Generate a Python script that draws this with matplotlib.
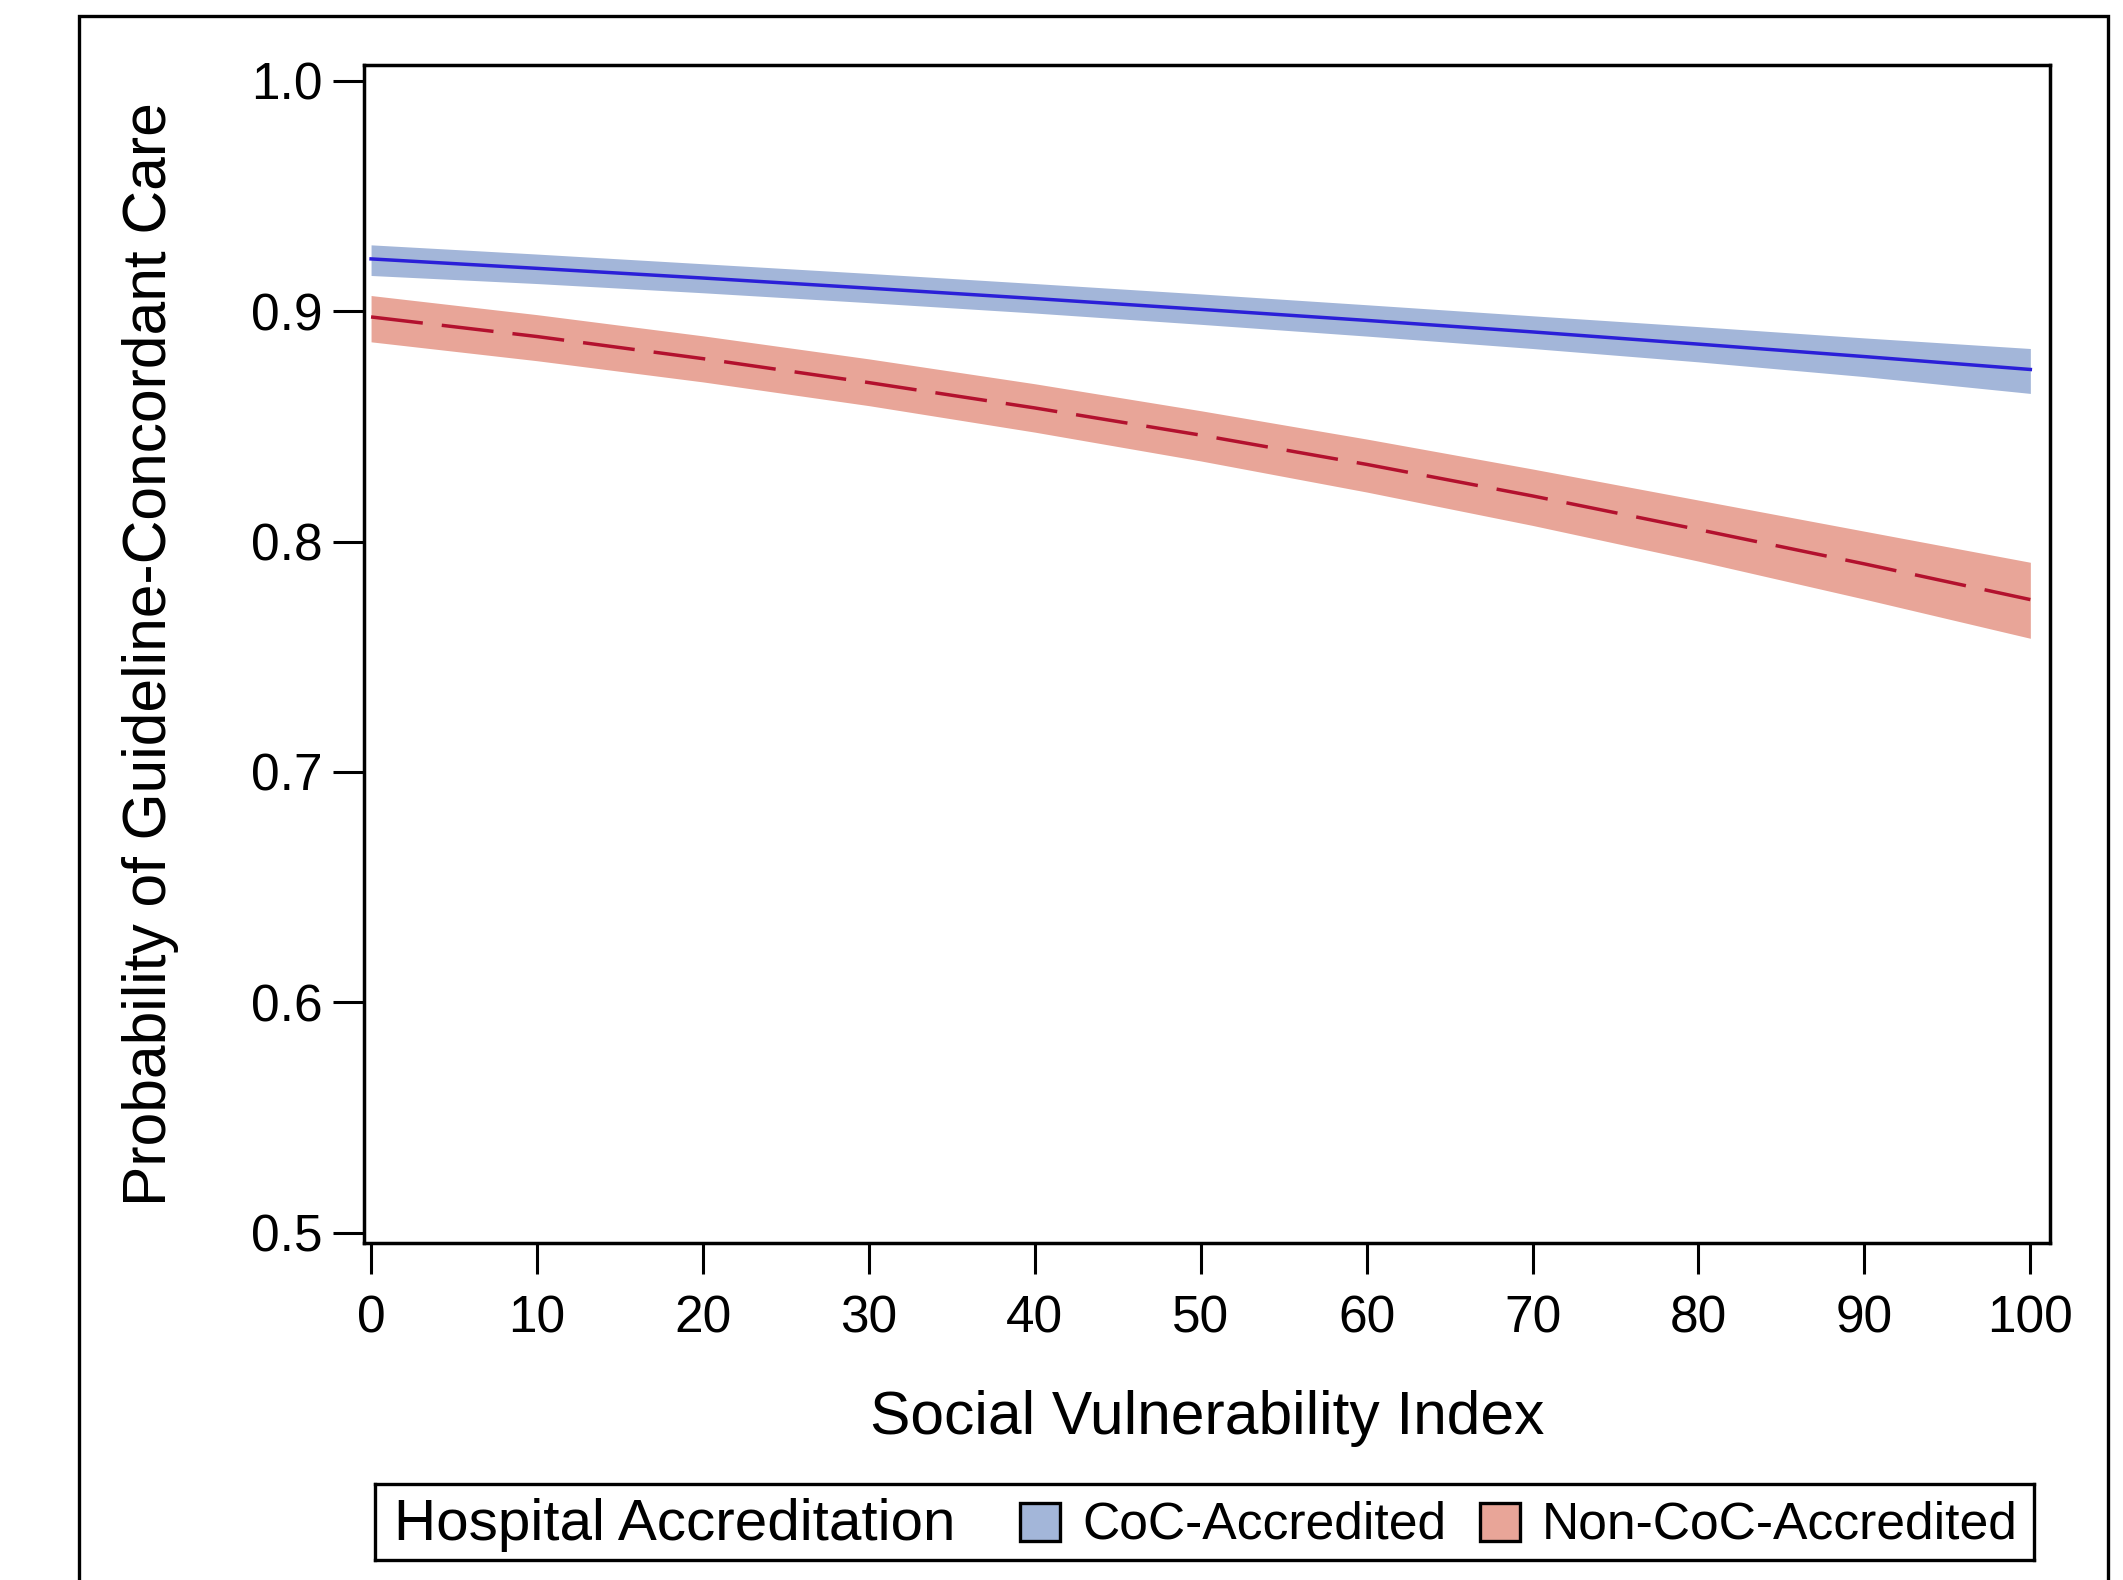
import matplotlib.pyplot as plt
from matplotlib.patches import Rectangle

plt.rcParams['font.family'] = ['Liberation Sans', 'DejaVu Sans']

svi = [0, 10, 20, 30, 40, 50, 60, 70, 80, 90, 100]

coc_est = [0.9227, 0.9186, 0.9144, 0.9100, 0.9055, 0.9008, 0.8960, 0.8910, 0.8857, 0.8803, 0.8747]
coc_upper = [0.9288, 0.9248, 0.9206, 0.9164, 0.9120, 0.9075, 0.9028, 0.8980, 0.8933, 0.8884, 0.8838]
coc_lower = [0.9155, 0.9120, 0.9080, 0.9037, 0.8992, 0.8943, 0.8892, 0.8838, 0.8780, 0.8716, 0.8643]

non_est = [0.8975, 0.8890, 0.8794, 0.8690, 0.8580, 0.8462, 0.8335, 0.8198, 0.8052, 0.7903, 0.7748]
non_upper = [0.9068, 0.8985, 0.8893, 0.8793, 0.8685, 0.8568, 0.8445, 0.8315, 0.8180, 0.8045, 0.7910]
non_lower = [0.8867, 0.8785, 0.8693, 0.8590, 0.8475, 0.8350, 0.8215, 0.8070, 0.7915, 0.7750, 0.7580]

x_ticks = [0, 10, 20, 30, 40, 50, 60, 70, 80, 90, 100]
y_ticks = [0.5, 0.6, 0.7, 0.8, 0.9, 1.0]

legend_title = 'Hospital Accreditation'
group_names = ['CoC-Accredited', 'Non-CoC-Accredited']

band_colors = ['#a3b6d9', '#e8a598']
line_colors = ['#2a1fd8', '#b3112e']

fig = plt.figure(figsize=(21.23, 15.8), dpi=100, facecolor='white')

# outer frame, runs off the bottom edge like in the original
fig.patches.append(Rectangle((0.037, -0.1), 0.956, 1.0899, transform=fig.transFigure,
                             fill=False, edgecolor='black', linewidth=2.4, clip_on=False))

ax = fig.add_axes([0.1715, 0.2133, 0.794, 0.7456])

ax.fill_between(svi, coc_lower, coc_upper, color=band_colors[0], linewidth=0)
ax.fill_between(svi, non_lower, non_upper, color=band_colors[1], linewidth=0)
ax.plot(svi, coc_est, color=line_colors[0], linewidth=2.5)
ax.plot(svi, non_est, color=line_colors[1], linewidth=2.5, linestyle=(0, (15, 5.5)))

ax.set_xlim(-0.42, 101.17)
ax.set_ylim(0.4955, 1.0069)
ax.set_xticks(x_ticks)
ax.set_yticks(y_ticks)
ax.set_yticklabels(['%.1f' % v for v in y_ticks])

for sp in ax.spines.values():
    sp.set_linewidth(2.5)
ax.tick_params(axis='both', length=22, width=2.2, labelsize=37)
ax.tick_params(axis='x', pad=15)
ax.tick_params(axis='y', pad=8)

ax.set_xlabel('Social Vulnerability Index', fontsize=43.6)
ax.set_ylabel('Probability of Guideline-Concordant Care', fontsize=43.6)
ax.xaxis.set_label_coords(0.5, -0.149)
ax.xaxis.label.set_va('center')
ax.yaxis.set_label_coords(-0.127, 0.5)
ax.yaxis.label.set_va('center')

# legend box with the title inline
lax = fig.add_axes([0.1766, 0.0127, 0.7814, 0.0481])
lax.set_xlim(0, 1)
lax.set_ylim(0, 1)
lax.set_xticks([])
lax.set_yticks([])
for sp in lax.spines.values():
    sp.set_linewidth(2.4)

lax.text(0.0115, 0.46, legend_title, fontsize=42, ha='left', va='center')
patch_x = [0.3888, 0.666]
text_x = [0.4262, 0.7035]
for i, name in enumerate(group_names):
    lax.add_patch(Rectangle((patch_x[i], 0.25), 0.0241, 0.5, facecolor=band_colors[i],
                            edgecolor='black', linewidth=2.4))
    lax.text(text_x[i], 0.46, name, fontsize=37.2, ha='left', va='center')

fig.savefig('out.png', dpi=100)
